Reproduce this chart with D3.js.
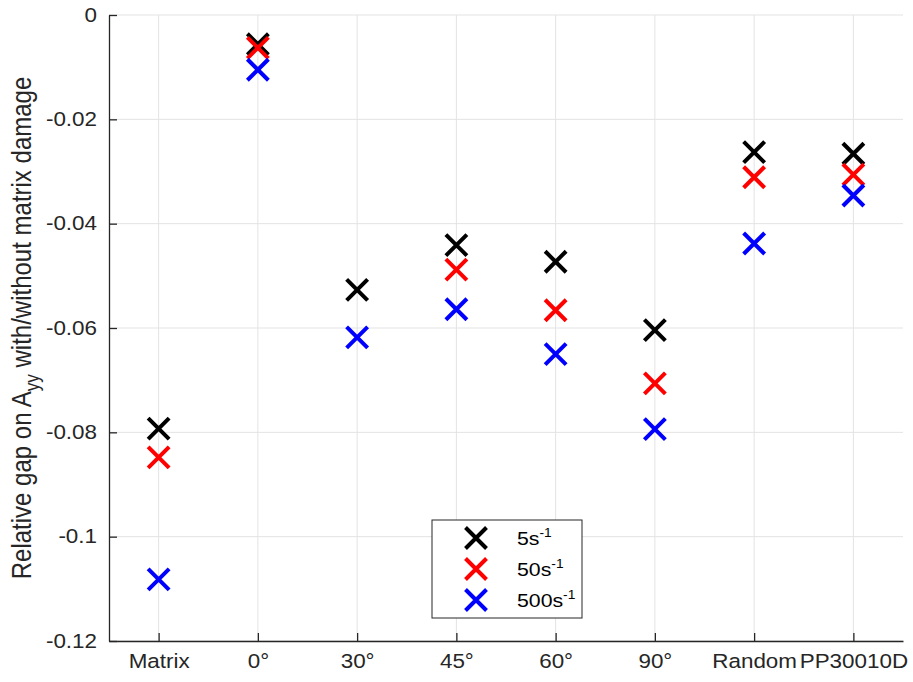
<!DOCTYPE html>
<html>
<head>
<meta charset="utf-8">
<script src="https://cdn.jsdelivr.net/npm/d3@7"></script>
<style>
  body { margin: 0; background: #fff; }
  text { font-family: "Liberation Sans", Arial, sans-serif; }
</style>
</head>
<body>
<svg id="chart" width="913" height="682"></svg>
<script>
// categories on the x axis
var categories = ["Matrix", "0°", "30°", "45°", "60°", "90°", "Random", "PP30010D"]

// relative gap values per strain rate (null = no point)
var rate5 = [-0.0793, -0.0056, -0.0527, -0.0441, -0.0473, -0.0604, -0.0263, -0.0266]
var rate50 = [-0.0848, -0.0063, null, -0.0488, -0.0566, -0.0706, -0.0311, -0.0306]
var rate500 = [-0.1082, -0.0105, -0.0618, -0.0564, -0.0650, -0.0794, -0.0438, -0.0346]

var yTicks = [0, -0.02, -0.04, -0.06, -0.08, -0.1, -0.12]

var series = [
    { label: "5", values: rate5, color: "#000000" },
    { label: "50", values: rate50, color: "#ff0000" },
    { label: "500", values: rate500, color: "#0000ff" }
]

var margin = { top: 15, right: 10, bottom: 41, left: 109 },
    width = 913 - margin.left - margin.right,
    height = 682 - margin.top - margin.bottom

// the reference text is a bit wider than plain Helvetica
var stretch = 1.15

var svg = d3.select("#chart")
var g = svg.append("g").attr("transform", "translate(" + margin.left + "," + margin.top + ")")

// scales
var x = d3.scaleLinear().domain([0.5, categories.length + 0.5]).range([0, width])
var y = d3.scaleLinear().domain([-0.12, 0]).range([height, 0])
var axisColor = "#262626"

// grid lines
g.append("g").selectAll("line.gx")
    .data(categories)
    .enter().append("line")
    .attr("x1", function(d, i) { return x(i + 1) })
    .attr("x2", function(d, i) { return x(i + 1) })
    .attr("y1", 0).attr("y2", height)
    .style("stroke", "#e3e3e3").style("stroke-width", 1)

g.append("g").selectAll("line.gy")
    .data(yTicks)
    .enter().append("line")
    .attr("x1", 0).attr("x2", width)
    .attr("y1", function(d) { return y(d) })
    .attr("y2", function(d) { return y(d) })
    .style("stroke", "#e3e3e3").style("stroke-width", 1)

// x axis
var xAxis = g.append("g")
    .attr("transform", "translate(0," + height + ")")
    .call(d3.axisBottom(x)
        .tickValues(d3.range(1, categories.length + 1))
        .tickFormat(function(d) { return categories[d - 1] })
        .tickSizeInner(-8).tickSizeOuter(0).tickPadding(13))
xAxis.select(".domain").attr("stroke", axisColor).attr("stroke-width", 1.3)
xAxis.selectAll(".tick line").attr("stroke", axisColor).attr("stroke-width", 1.3)
xAxis.selectAll(".tick text")
    .attr("fill", "#262626").style("font-size", "19.5px")
    .attr("transform", "scale(" + stretch + ",1)")

// y axis
var yAxis = g.append("g")
    .call(d3.axisLeft(y)
        .tickValues(yTicks)
        .tickFormat(function(d) { return d === 0 ? "0" : String(+d.toFixed(2)) })
        .tickSizeInner(-8).tickSizeOuter(0).tickPadding(12))
yAxis.select(".domain").attr("stroke", axisColor).attr("stroke-width", 1.3)
yAxis.selectAll(".tick line").attr("stroke", axisColor).attr("stroke-width", 1.3)
yAxis.selectAll(".tick text")
    .attr("fill", "#262626").style("font-size", "19.5px")
    .attr("x", -12 / stretch)
    .attr("transform", "scale(" + stretch + ",1)")

// y label
var yLab = g.append("text")
    .attr("transform", "translate(-78," + (height / 2) + ") scale(" + stretch + ",1) rotate(-90)")
    .attr("text-anchor", "middle")
    .attr("fill", "#262626")
    .style("font-size", "24px")
yLab.append("tspan").text("Relative gap on A")
yLab.append("tspan").attr("dy", 7).style("font-size", "17px").text("yy")
yLab.append("tspan").attr("dy", -7).text(" with/without matrix damage")

// cross marker
function cross(sel, s) {
    sel.append("path")
        .attr("d", "M" + (-s) + "," + (-s) + "L" + s + "," + s + "M" + (-s) + "," + s + "L" + s + "," + (-s))
}

// points
series.forEach(function(sr) {
    var pts = g.append("g")
        .selectAll("g")
        .data(sr.values.map(function(v, i) { return { i: i, v: v } }).filter(function(d) { return d.v !== null }))
        .enter().append("g")
        .attr("transform", function(d) { return "translate(" + x(d.i + 1) + "," + y(d.v) + ")" })
    cross(pts, 10.5)
    pts.selectAll("path").attr("stroke", sr.color).attr("stroke-width", 4).attr("fill", "none")
})

// legend
var key = g.append("g").attr("transform", "translate(" + (432 - margin.left) + "," + (520 - margin.top) + ")")
key.append("rect")
    .attr("width", 150).attr("height", 98)
    .attr("fill", "#fff").attr("stroke", axisColor).attr("stroke-width", 1)

series.forEach(function(sr, i) {
    var row = key.append("g").attr("transform", "translate(44," + (18 + i * 31) + ")")
    cross(row, 10.5)
    row.select("path").attr("stroke", sr.color).attr("stroke-width", 4).attr("fill", "none")
    var t = row.append("text")
        .attr("transform", "translate(41,7) scale(" + stretch + ",1)")
        .attr("fill", "#000").style("font-size", "18.5px")
    t.append("tspan").text(sr.label + "s")
    t.append("tspan").attr("dy", -8).style("font-size", "12px").text("-1")
})
</script>
</body>
</html>
